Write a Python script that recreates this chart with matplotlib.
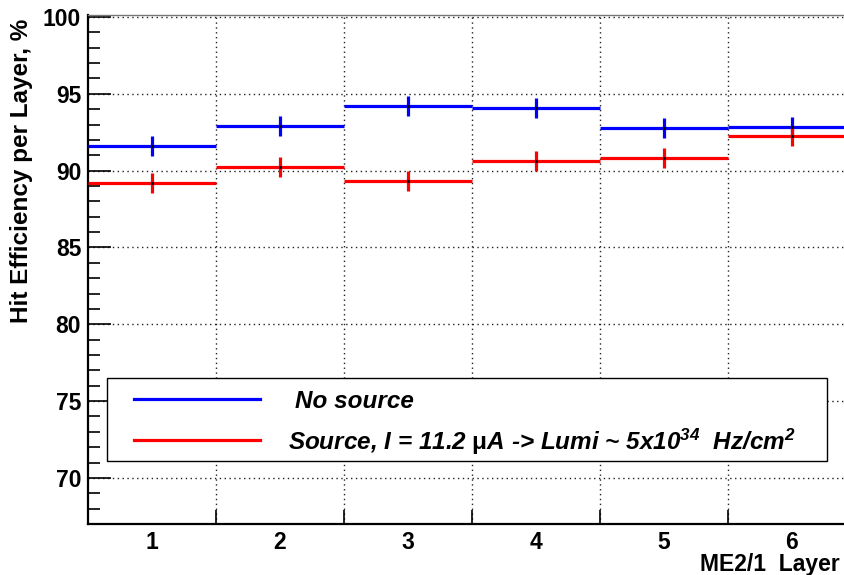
import matplotlib

matplotlib.use("Agg")

from matplotlib import pyplot as plt
from matplotlib.lines import Line2D
from matplotlib.patches import Rectangle
from matplotlib.ticker import FixedLocator, MultipleLocator

layers = [1, 2, 3, 4, 5, 6]
layer_edges = [1.5, 2.5, 3.5, 4.5, 5.5]
eff_no_source = [91.6, 92.9, 94.2, 94.1, 92.75, 92.85]
eff_source = [89.2, 90.25, 89.35, 90.6, 90.85, 92.25]
err_no_source = [0.65, 0.65, 0.65, 0.65, 0.65, 0.65]
err_source = [0.65, 0.65, 0.65, 0.65, 0.65, 0.65]
y_ticks = [70, 75, 80, 85, 90, 95, 100]

label_no_source = "No source"
label_source = r"Source, I = 11.2 $\mathsf{\mu}$A -> Lumi ~ 5x$10^{34}$  Hz/$\mathrm{cm}^{2}$"

plt.rcParams["font.family"] = ["Liberation Sans", "DejaVu Sans"]
plt.rcParams["font.weight"] = "bold"
plt.rcParams["mathtext.fontset"] = "custom"
plt.rcParams["mathtext.rm"] = "Liberation Sans:bold:italic"
plt.rcParams["mathtext.it"] = "Liberation Sans:bold:italic"
plt.rcParams["mathtext.sf"] = "Liberation Sans"
plt.rcParams["mathtext.bf"] = "Liberation Sans:bold"

W, H = 844, 575


def fx(px):
    return px / W


def fy(py):
    return 1 - py / H


fig = plt.figure(figsize=(W / 100, H / 100), dpi=100)
# frame runs past the right edge, like the cropped original
ax = fig.add_axes([fx(87.5), fy(524), (855.5 - 87.5) / W, (524 - 15) / H])

ax.errorbar(layers, eff_no_source, xerr=0.5, yerr=err_no_source, fmt="none",
            ecolor="#0000ff", elinewidth=2.3, capsize=0, zorder=3)
ax.errorbar(layers, eff_source, xerr=0.5, yerr=err_source, fmt="none",
            ecolor="#ff0000", elinewidth=2.3, capsize=0, zorder=4)
ax.plot(layers, eff_no_source, ls="none", marker="s", ms=1, color="black", zorder=5)
ax.plot(layers, eff_source, ls="none", marker="s", ms=1, color="black", zorder=5)

ax.set_xlim(0.5, 6.5)
ax.set_ylim(67, 100.13)

ax.xaxis.set_major_locator(FixedLocator(layers))
ax.xaxis.set_minor_locator(FixedLocator(layer_edges))
ax.yaxis.set_major_locator(FixedLocator(y_ticks))
ax.yaxis.set_minor_locator(MultipleLocator(1))

ax.set_axisbelow(True)
ax.xaxis.grid(True, which="minor", color="#222222", linestyle=(0, (1, 2.5)), linewidth=1)
ax.yaxis.grid(True, which="major", color="#222222", linestyle=(0, (1, 2.5)), linewidth=1)

ax.tick_params(axis="y", which="major", direction="in", length=16.5, width=1.2,
               pad=4.5, labelsize=16.5)
ax.tick_params(axis="y", which="minor", direction="in", length=8.6, width=1.2)
ax.tick_params(axis="x", which="major", length=0, pad=5, labelsize=16.5)
ax.tick_params(axis="x", which="minor", direction="in", length=10, width=1.2)

ax.spines["left"].set_linewidth(1.6)
ax.spines["bottom"].set_linewidth(1.6)
ax.spines["top"].set_linewidth(1.0)
ax.spines["top"].set_color("#777777")
ax.spines["right"].set_visible(False)

fig.text(fx(22), fy(19), "Hit Efficiency per Layer, %", rotation=90,
         ha="center", va="top", fontsize=17.5, fontweight="bold")
fig.text(fx(840), fy(553.5), "ME2/1  Layer", ha="right", va="top",
         fontsize=16.5, fontweight="bold")

# legend box
fig.add_artist(Rectangle((fx(107), fy(461)), (827 - 107) / W, (461 - 378) / H,
                         transform=fig.transFigure, facecolor="white",
                         edgecolor="black", linewidth=1, zorder=10))
fig.add_artist(Line2D([fx(134), fx(260)], [fy(399), fy(399)], color="#0000ff",
                      linewidth=2.3, transform=fig.transFigure, zorder=11))
fig.add_artist(Line2D([fx(134), fx(260)], [fy(440), fy(440)], color="#ff0000",
                      linewidth=2.3, transform=fig.transFigure, zorder=11))
fig.text(fx(295), fy(407.5), label_no_source, fontsize=17.5, fontweight="bold",
         style="italic", va="baseline", zorder=12)
fig.text(fx(288), fy(450), label_source, fontsize=17.5, fontweight="bold",
         style="italic", va="baseline", zorder=12)

fig.savefig("out.png", dpi=100)
